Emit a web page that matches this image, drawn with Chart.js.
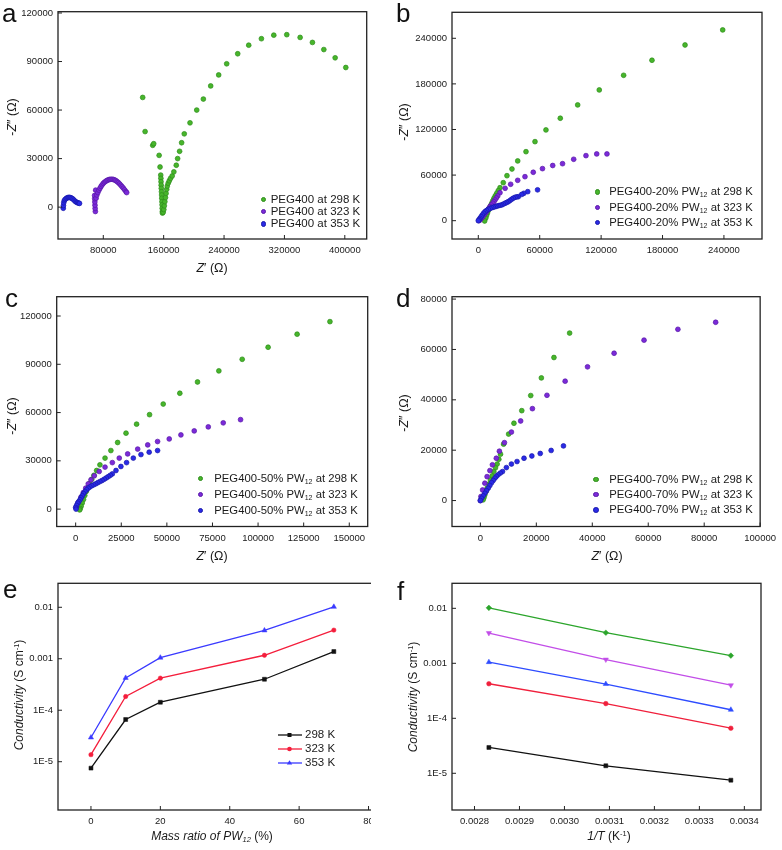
<!DOCTYPE html>
<html><head><meta charset="utf-8">
<script src="https://cdn.jsdelivr.net/npm/chart.js@4.4.1/dist/chart.umd.min.js"></script>
<style>
html,body{margin:0;padding:0;background:#fff;}
#root{position:relative;width:782px;height:850px;overflow:hidden;font-family:'Liberation Sans',Arial,sans-serif;color:#1a1a1a;}
canvas{position:absolute;}
.lbl{position:absolute;white-space:nowrap;line-height:1;font-size:12.5px;}
.rot{transform:translate(-50%,-50%) rotate(-90deg);}
.ctr{transform:translate(-50%,-50%);}
.letter{position:absolute;font-size:26px;line-height:1;color:#111;}
.leg{position:absolute;white-space:nowrap;display:flex;align-items:center;line-height:1;}
.dot{display:inline-block;flex:none;width:5.6px;height:5.6px;border-radius:50%;box-sizing:border-box;}
sub{font-size:0.62em;vertical-align:-0.3em;line-height:0;}
sup{font-size:0.62em;vertical-align:0.55em;line-height:0;}
</style></head>
<body><div id="root">
<canvas id="ca" width="391" height="280" style="left:0;top:0"></canvas>
<canvas id="cb" width="391" height="280" style="left:391px;top:0"></canvas>
<canvas id="cc" width="391" height="290" style="left:0;top:280px"></canvas>
<canvas id="cd" width="391" height="290" style="left:391px;top:280px"></canvas>
<div style="position:absolute;left:0;top:570px;width:370.5px;height:280px;overflow:hidden"><canvas id="ce" width="391" height="280" style="left:0;top:0"></canvas></div>
<canvas id="cf" width="391" height="280" style="left:391px;top:570px"></canvas>

<div class="letter" style="left:2px;top:0px">a</div>
<div class="letter" style="left:396px;top:0px">b</div>
<div class="letter" style="left:5px;top:285px">c</div>
<div class="letter" style="left:396px;top:285px">d</div>
<div class="letter" style="left:3px;top:576px">e</div>
<div class="letter" style="left:397px;top:578px">f</div>

<div class="lbl rot" style="left:12px;top:117px">-<i>Z</i>″ (Ω)</div>
<div class="lbl ctr" style="left:212px;top:268px"><i>Z</i>′ (Ω)</div>
<div class="lbl rot" style="left:404px;top:122px">-<i>Z</i>″ (Ω)</div>
<div class="lbl rot" style="left:12px;top:416px">-<i>Z</i>″ (Ω)</div>
<div class="lbl ctr" style="left:212px;top:556px"><i>Z</i>′ (Ω)</div>
<div class="lbl rot" style="left:404px;top:413px">-<i>Z</i>″ (Ω)</div>
<div class="lbl ctr" style="left:607px;top:556px"><i>Z</i>′ (Ω)</div>
<div class="lbl rot" style="left:19px;top:695px;font-size:12px"><i>Conductivity</i> (S cm<sup>-1</sup>)</div>
<div class="lbl ctr" style="left:212px;top:836px;font-size:12px"><i>Mass ratio of PW<sub>12</sub></i> (%)</div>
<div class="lbl rot" style="left:413px;top:697px;font-size:12px"><i>Conductivity</i> (S cm<sup>-1</sup>)</div>
<div class="lbl ctr" style="left:609px;top:836px;font-size:12px"><i>1/T</i> (K<sup>-1</sup>)</div>
</div>
<script>
// ---------------- DATA ----------------
const temps = ['298 K', '323 K', '353 K'];

// panel a: PEG400
const a298 = [[132200,67800],[135400,46700],[145500,38200],[146800,39200],[154000,32000],[155200,24800],
 [156100,19800],[156300,17800],[156500,15700],[156700,13600],[156900,11600],[157100,9500],[157300,7500],[157500,5500],
 [157700,3400],[157900,1400],[158100,-700],[158300,-2700],[158400,-3700],[159300,-3200],[160200,-1500],[160900,800],
 [161600,3400],[162400,5900],[163200,8500],[164000,11000],[164800,13000],[166000,14800],[167500,16300],[169100,17800],
 [171300,19300],[173500,21800],[176700,25900],[178500,30000],[181100,34500],[183800,39800],[187300,45300],[194900,52100],
 [203800,60000],[212600,66800],[222300,74900],[232900,81700],[243500,88600],[258100,94800],[272700,100100],[289500,104100],
 [305900,106300],[323100,106600],[340800,104900],[357100,101800],[372200,97400],[387200,92300],[401300,86300]];
const a323 = [[69500,-2700],[69200,-800],[69000,1200],[68800,3200],[68600,5200],[68500,7200],[69900,10500],[70500,5500],
 [71500,7500],[72800,9000],[74200,10500],[75600,11700],[77000,12800],[78500,13800],[80000,14700],[81600,15400],[83300,16000],
 [85000,16500],[86600,16900],[88300,17100],[90000,17200],[91700,17200],[93300,17100],[95000,16800],[96600,16400],[98300,15800],
 [99900,15200],[101600,14400],[103300,13500],[105000,12600],[106600,11700],[108300,10700],[110000,9600],[111000,9000]];
const a353 = [[27000,-700],[27200,1000],[27600,2700],[28300,4000],[29500,4800],[31000,5400],[32500,5800],[34000,6000],
 [35500,6000],[37000,5800],[38500,5400],[40000,4900],[41500,4200],[43000,3500],[44500,3000],[46000,2700],[47500,2500],[48500,2300]];

// panel b: PEG400-20% PW12
const b298 = [[238800,251000],[202000,231200],[169700,211100],[142000,191300],[118200,172000],[97100,152300],[80100,134800],
 [66100,119400],[55400,104000],[46600,90800],[38500,78600],[32900,68000],[28000,59200],[24400,50000],[21200,43400],[19500,39500],
 [18000,36000],[16600,32700],[15300,29500],[14200,26200],[13100,22900],[11900,19600],[10700,16300],[9700,13000],[8800,9700],
 [8000,6500],[7200,3200],[6200,-400]];
const b323 = [[125700,87800],[115700,87800],[105200,85600],[93200,80800],[82300,75000],[72700,72600],[62700,68500],[53700,63700],
 [45600,57900],[38500,53100],[31600,47900],[26200,42600],[21200,36800],[19000,32500],[17600,29800],[16300,27200],[15200,25000],
 [14100,22900],[12700,20600],[11400,18400],[10300,16200],[9200,14100],[8000,11900],[6800,9700],[5500,7500],[4300,5300],
 [3000,3100],[1700,900],[600,0]];
const b353 = [[57900,40600],[48300,38200],[44500,36000],[42400,34500],[39100,31600],[37500,31200],[35900,30800],[34200,29600],
 [32600,28200],[30900,26500],[29300,25000],[27700,23900],[26100,22900],[24500,21800],[22900,20700],[21200,20200],[19500,19700],
 [17900,19000],[16300,18400],[14700,17700],[13100,17100],[11500,16000],[9800,14900],[8100,13400],[6500,11800],[5200,9800],
 [3900,7500],[2800,5300],[1700,3200],[800,1500],[0,0]];

// panel c: PEG400-50% PW12
const c298 = [[139400,116500],[121400,108700],[105500,100600],[91300,93100],[78500,85900],[66800,79000],[57100,72000],
 [48000,65300],[40500,58700],[33400,52800],[27600,47200],[23000,41400],[19300,36400],[16100,31700],[13300,27500],[11500,24000],
 [10000,21000],[8800,18500],[7700,16000],[6700,13500],[5800,11000],[5000,8500],[4300,6000],[3600,3800],[3000,1800],[2500,300],[2200,-500]];
const c323 = [[90400,55600],[80900,53600],[72700,51100],[65000,48600],[57700,46100],[51300,43600],[44900,42000],[39500,39900],
 [34000,37300],[28500,34300],[23900,31700],[20100,28900],[16100,26100],[12900,23400],[10200,20700],[8400,18200],[6900,15700],
 [5500,13000],[4200,10300],[2900,7400],[1400,4100],[300,1200]];
const c353 = [[44900,36400],[40300,35400],[35800,33900],[31600,31700],[27900,28900],[24800,26500],[22100,24000],[20100,21900],
 [19000,21000],[17900,20200],[16800,19400],[15700,18600],[14500,17800],[13300,17100],[12100,16400],[11000,15700],[9900,15100],
 [8800,14500],[7800,13800],[6900,13000],[6000,12000],[5100,10900],[4300,9600],[3600,8300],[3000,7000],[2400,5800],[1700,4700],
 [1100,3700],[500,2300],[0,1000],[200,0]];

// panel d: PEG400-70% PW12
const d298 = [[31900,66500],[26300,56800],[21800,48700],[18000,41700],[14800,35700],[12000,30700],[10100,26400],[8300,22400],
 [7200,18400],[6600,16400],[6000,14500],[5400,13000],[4800,11500],[4200,9800],[3600,8200],[3000,6500],[2400,4900],[2000,3600],
 [1600,2300],[1300,1200],[1000,300]];
const d323 = [[84100,70800],[70600,68000],[58500,63700],[47800,58500],[38300,53100],[30300,47400],[23800,41800],[18600,36500],
 [14400,31600],[11100,27200],[8600,23000],[6800,19600],[5700,16800],[4300,14200],[3400,11900],[2400,9500],[1600,6900],
 [800,4200],[200,1600],[0,0]];
const d353 = [[29700,21700],[25300,19900],[21400,18700],[18400,17700],[15600,16800],[13100,15500],[11100,14500],[9300,13100],
 [7900,11500],[7100,10900],[6300,10200],[5700,9600],[5200,8900],[4600,8000],[4000,7100],[3400,6000],[2800,4900],[2200,3900],
 [1600,2900],[1000,1900],[400,900],[0,0]];

// panels e, f: conductivity
const massRatio = [0, 10, 20, 50, 70];
const cond298 = [7.5e-6, 6.6e-5, 1.43e-4, 4.0e-4, 1.38e-3];
const cond323 = [1.37e-5, 1.85e-4, 4.2e-4, 1.17e-3, 3.6e-3];
const cond353 = [2.95e-5, 4.25e-4, 1.05e-3, 3.55e-3, 1.02e-2];
const invT = [0.002832, 0.003092, 0.003370]; // 353 K, 323 K, 298 K

// tick values / labels
const aXTicks = [80000,160000,240000,320000,400000], aYTicks = [0,30000,60000,90000,120000];
const bXTicks = [0,60000,120000,180000,240000], bYTicks = [0,60000,120000,180000,240000];
const cXTicks = [0,25000,50000,75000,100000,125000,150000], cYTicks = [0,30000,60000,90000,120000];
const dXTicks = [0,20000,40000,60000,80000,100000], dYTicks = [0,20000,40000,60000,80000];
const eXTicks = [0,20,40,60,80];
const condTicks = [1e-5,1e-4,1e-3,1e-2], condTickLabels = ['1E-5','1E-4','0.001','0.01'];
const fXTicks = [0.0028,0.0029,0.0030,0.0031,0.0032,0.0033,0.0034];
const fXTickLabels = ['0.0028','0.0029','0.0030','0.0031','0.0032','0.0033','0.0034'];

// legend names
const aNames = temps.map(t => 'PEG400 at ' + t);
const bNames = temps.map(t => 'PEG400-20% PW<sub>12</sub> at ' + t);
const cNames = temps.map(t => 'PEG400-50% PW<sub>12</sub> at ' + t);
const dNames = temps.map(t => 'PEG400-70% PW<sub>12</sub> at ' + t);

// ---------------- STYLE / LAYOUT ----------------
const FONT = "'Liberation Sans', Arial, sans-serif";
const NYQ = [{c:'#47b52b', d:'#2c8c1a'}, {c:'#7b2ad8', d:'#5718a8'}, {c:'#2a2ae6', d:'#1818aa'}];

const frame = {
  id: 'frame',
  afterDraw(chart) {
    const {ctx, chartArea: a, scales} = chart;
    ctx.save();
    ctx.strokeStyle = '#222';
    ctx.lineWidth = 1.3;
    ctx.strokeRect(a.left, a.top, a.right - a.left, a.bottom - a.top);
    ctx.lineWidth = 1;
    ctx.beginPath();
    scales.x.ticks.forEach(t => { const p = scales.x.getPixelForValue(t.value); ctx.moveTo(p, a.bottom); ctx.lineTo(p, a.bottom - 4); });
    scales.y.ticks.forEach(t => { const p = scales.y.getPixelForValue(t.value); ctx.moveTo(a.left, p); ctx.lineTo(a.left + 4, p); });
    ctx.stroke();
    ctx.restore();
  }
};

function axis(cfg, isX, cv, geo) {
  const o = {
    type: cfg.type || 'linear', min: cfg.min, max: cfg.max,
    grid: {display: false, drawTicks: false}, border: {display: false},
    afterBuildTicks: s => { s.ticks = cfg.ticks.map(v => ({value: v})); },
    ticks: {padding: isX ? 6 : 5, color: '#1a1a1a', font: {family: FONT, size: 9.5}, maxRotation: 0, autoSkip: false,
      callback: (v, i) => cfg.labels ? cfg.labels[i] : String(cfg.ticks[i])}
  };
  if (isX) o.afterFit = s => { s.height = cv.height - geo.B; };
  else o.afterFit = s => { s.width = geo.L; };
  return o;
}

function makeChart(id, geo, xc, yc, datasets) {
  const cv = document.getElementById(id);
  return new Chart(cv, {
    type: 'scatter',
    data: {datasets},
    options: {
      responsive: false, animation: false, devicePixelRatio: 1,
      layout: {padding: {left: 0, top: geo.T, right: cv.width - geo.R, bottom: 0}},
      plugins: {legend: {display: false}, tooltip: {enabled: false}},
      scales: {x: axis(xc, true, cv, geo), y: axis(yc, false, cv, geo)}
    },
    plugins: [frame]
  });
}

const toXY = arr => arr.map(([x, y]) => ({x, y}));
function nyqSets(series) {
  return series.map((s, i) => ({
    label: temps[i], data: toXY(s), order: 2 - i,
    pointRadius: 2.4, pointBorderWidth: 0.7,
    pointBackgroundColor: NYQ[i].c, pointBorderColor: NYQ[i].d
  }));
}

makeChart('ca', {L:58, T:11.7, R:366.7, B:239},
  {min:20000, max:429000, ticks:aXTicks}, {min:-19700, max:120800, ticks:aYTicks}, nyqSets([a298, a323, a353]));
makeChart('cb', {L:61, T:12.3, R:371, B:239},
  {min:-25700, max:277200, ticks:bXTicks}, {min:-24100, max:274200, ticks:bYTicks}, nyqSets([b298, b323, b353]));
makeChart('cc', {L:56.7, T:16.7, R:367.7, B:246.5},
  {min:-10400, max:160100, ticks:cXTicks}, {min:-10800, max:132000, ticks:cYTicks}, nyqSets([c298, c323, c353]));
makeChart('cd', {L:61, T:16.7, R:370, B:246.5},
  {min:-10140, max:100000, ticks:dXTicks}, {min:-10300, max:80950, ticks:dYTicks}, nyqSets([d298, d323, d353]));

// panel e
const eStyles = [
  {c:'#111111', ps:'rect', r:2.8, rot:0},
  {c:'#f41e3c', ps:'circle', r:2.2, rot:0},
  {c:'#3a3aff', ps:'triangle', r:3, rot:0}
];
const eSeries = [cond298, cond323, cond353];
makeChart('ce', {L:58, T:13.3, R:372, B:240},
  {min:-9.5, max:81, ticks:eXTicks},
  {type:'logarithmic', min:1.153e-6, max:0.02924, ticks:condTicks, labels:condTickLabels},
  eSeries.map((s, i) => ({
    label: temps[i], data: massRatio.map((m, k) => ({x: m, y: s[k]})), showLine: true,
    borderColor: eStyles[i].c, borderWidth: 1.3, pointStyle: eStyles[i].ps, pointRadius: eStyles[i].r,
    pointBackgroundColor: eStyles[i].c, pointBorderColor: eStyles[i].c, pointBorderWidth: 0.5
  })));

// panel f: one line per composition, x = 1/T (353, 323, 298 K)
const fStyles = [
  {c:'#111111', ps:'rect', r:2.8, rot:0},
  {c:'#f0203c', ps:'circle', r:2.3, rot:0},
  {c:'#2e4cff', ps:'triangle', r:3, rot:0},
  {c:'#c24ee8', ps:'triangle', r:3, rot:180},
  {c:'#2ca52c', ps:'rectRot', r:2.8, rot:0}
];
makeChart('cf', {L:61, T:13.3, R:370, B:240},
  {min:0.00275, max:0.003437, ticks:fXTicks, labels:fXTickLabels},
  {type:'logarithmic', min:2.15e-6, max:0.0285, ticks:condTicks, labels:condTickLabels},
  massRatio.map((m, k) => ({
    label: m + '%', data: [cond353[k], cond323[k], cond298[k]].map((y, j) => ({x: invT[j], y})), showLine: true,
    borderColor: fStyles[k].c, borderWidth: 1.3, pointStyle: fStyles[k].ps, pointRadius: fStyles[k].r,
    pointRotation: fStyles[k].rot, pointBackgroundColor: fStyles[k].c, pointBorderColor: fStyles[k].c, pointBorderWidth: 0.5
  })));

// ---------------- LEGENDS (HTML text) ----------------
const root = document.getElementById('root');
function nyqLegend(names, mx, tx, rows, fs) {
  names.forEach((n, i) => {
    const d = document.createElement('div');
    d.className = 'leg';
    d.style.left = (mx - 2.8) + 'px';
    d.style.top = (rows[i] - 7) + 'px';
    d.style.height = '14px';
    d.style.fontSize = fs + 'px';
    d.innerHTML = '<span class="dot" style="background:' + NYQ[i].c + ';border:0.7px solid ' + NYQ[i].d + '"></span>' +
      '<span style="margin-left:' + (tx - mx - 2.8) + 'px">' + n + '</span>';
    root.appendChild(d);
  });
}
nyqLegend(aNames, 263.3, 270.7, [199.3, 211.7, 224], 11.5);
nyqLegend(bNames, 597.7, 609.3, [192, 207.3, 222.7], 11.3);
nyqLegend(cNames, 200.7, 214.3, [478.3, 494.3, 510.3], 11.3);
nyqLegend(dNames, 596, 609.3, [479.3, 494.3, 510], 11.3);

function markerSvg(st) {
  let m;
  if (st.ps === 'rect') m = '<rect x="9.5" y="3" width="4" height="4" fill="' + st.c + '"/>';
  else if (st.ps === 'circle') m = '<circle cx="11.5" cy="5" r="2.3" fill="' + st.c + '"/>';
  else m = '<polygon points="11.5,2.2 14.2,6.6 8.8,6.6" fill="' + st.c + '"/>';
  return '<svg width="24" height="10" style="display:block"><line x1="0" y1="5" x2="24" y2="5" stroke="' + st.c + '" stroke-width="1.3"/>' + m + '</svg>';
}
temps.forEach((t, i) => {
  const d = document.createElement('div');
  d.className = 'leg';
  d.style.left = '278px';
  d.style.top = ([735, 749, 762.7][i] - 7) + 'px';
  d.style.height = '14px';
  d.style.fontSize = '11.5px';
  d.innerHTML = markerSvg(eStyles[i]) + '<span style="margin-left:3px">' + t + '</span>';
  root.appendChild(d);
});
</script>
</body></html>
